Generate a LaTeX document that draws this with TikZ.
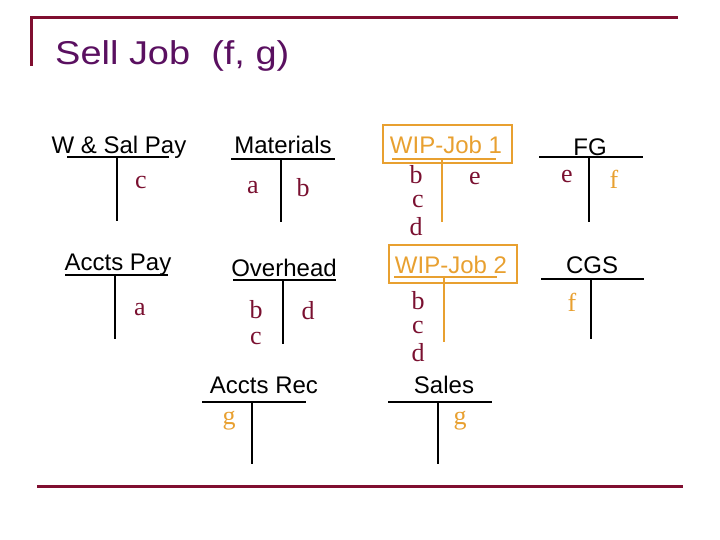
\documentclass[tikz,border=0pt]{standalone}
\usepackage{fontspec}
\setmainfont{Liberation Serif}
\setsansfont{Liberation Sans}
\definecolor{framered}{HTML}{800F30}
\definecolor{titlepurple}{HTML}{5A1060}
\definecolor{entryred}{HTML}{7A1030}
\definecolor{joborange}{HTML}{E8A030}

\begin{document}
\begin{tikzpicture}[x=1pt, y=-1pt,
		acct/.style={font=\sffamily\fontsize{24}{24}\selectfont, inner sep=0pt},
		entry/.style={font=\fontsize{26}{26}\selectfont, text=entryred, inner sep=0pt},
		hot/.style={font=\fontsize{26}{26}\selectfont, text=joborange, inner sep=0pt},
		tline/.style={line width=2.6pt},
		jobline/.style={line width=2.6pt, joborange},
		jobbox/.style={draw=joborange, line width=1.6pt}]
		\useasboundingbox (0, 0) rectangle (720, 540);
		% frame
		\draw[framered, line width=3pt] (31, 66) -- (31, 18) -- (678, 18);
		\draw[framered, line width=3pt] (37, 486) -- (683, 486);
		\node[anchor=west, text=titlepurple, inner sep=0pt, xscale=1.15, font=\sffamily\fontsize{33}{33}\selectfont] (title) at (55, 56) {Sell Job\ \ (f, g)};
		% W & Sal Pay
		\node[acct] (wsal) at (119, 147) {W \& Sal Pay};
		\draw[tline] (67, 157) -- (169, 157);
		\draw[tline] (117, 157) -- (117, 221);
		\node[entry] (wsalc) at (141, 183) {c};
		% Materials
		\node[acct] (mat) at (283, 145) {Materials};
		\draw[tline] (231, 159) -- (335, 159);
		\draw[tline] (281, 159) -- (281, 222);
		\node[entry] (mata) at (253, 188) {a};
		\node[entry] (matb) at (303, 188) {b};
		% WIP-Job 1
		\draw[jobbox] (383, 125) rectangle (512, 163);
		\node[acct, text=joborange] (wip1) at (446, 145) {WIP-Job 1};
		\draw[jobline] (392, 159) -- (496, 159);
		\draw[jobline] (442, 159) -- (442, 222);
		\node[entry] (wip1b) at (416, 175) {b};
		\node[entry] (wip1c) at (418, 202) {c};
		\node[entry] (wip1d) at (416, 227) {d};
		\node[entry] (wip1e) at (475, 179) {e};
		% FG
		\node[acct] (fg) at (590, 147) {FG};
		\draw[tline] (539, 157) -- (643, 157);
		\draw[tline] (589, 157) -- (589, 222);
		\node[entry] (fge) at (567, 177) {e};
		\node[hot] (fgf) at (614, 179) {f};
		% Accts Pay
		\node[acct] (ap) at (118, 265) {Accts Pay};
		\draw[tline] (65, 275) -- (168, 275);
		\draw[tline] (115, 275) -- (115, 339);
		\node[entry] (apa) at (140, 310) {a};
		% Overhead
		\node[acct] (oh) at (284, 268) {Overhead};
		\draw[tline] (233, 280) -- (336, 280);
		\draw[tline] (283, 280) -- (283, 344);
		\node[entry] (ohb) at (256, 310) {b};
		\node[entry] (ohc) at (256, 339) {c};
		\node[entry] (ohd) at (308, 311) {d};
		% WIP-Job 2
		\draw[jobbox] (389, 245) rectangle (517, 283);
		\node[acct, text=joborange] (wip2) at (451, 265) {WIP-Job 2};
		\draw[jobline] (394, 277) -- (497, 277);
		\draw[jobline] (444, 277) -- (444, 342);
		\node[entry] (wip2b) at (418, 301) {b};
		\node[entry] (wip2c) at (418, 328) {c};
		\node[entry] (wip2d) at (418, 353) {d};
		% CGS
		\node[acct] (cgs) at (592, 265) {CGS};
		\draw[tline] (541, 279) -- (644, 279);
		\draw[tline] (591, 279) -- (591, 339);
		\node[hot] (cgsf) at (572, 302) {f};
		% Accts Rec
		\node[acct] (ar) at (264, 385) {Accts Rec};
		\draw[tline] (202, 402) -- (306, 402);
		\draw[tline] (252, 402) -- (252, 464);
		\node[hot] (arg) at (229, 421) {g};
		% Sales
		\node[acct] (sales) at (444, 385) {Sales};
		\draw[tline] (388, 402) -- (492, 402);
		\draw[tline] (438, 402) -- (438, 464);
		\node[hot] (salesg) at (460, 421) {g};
	\end{tikzpicture}
\end{document}
